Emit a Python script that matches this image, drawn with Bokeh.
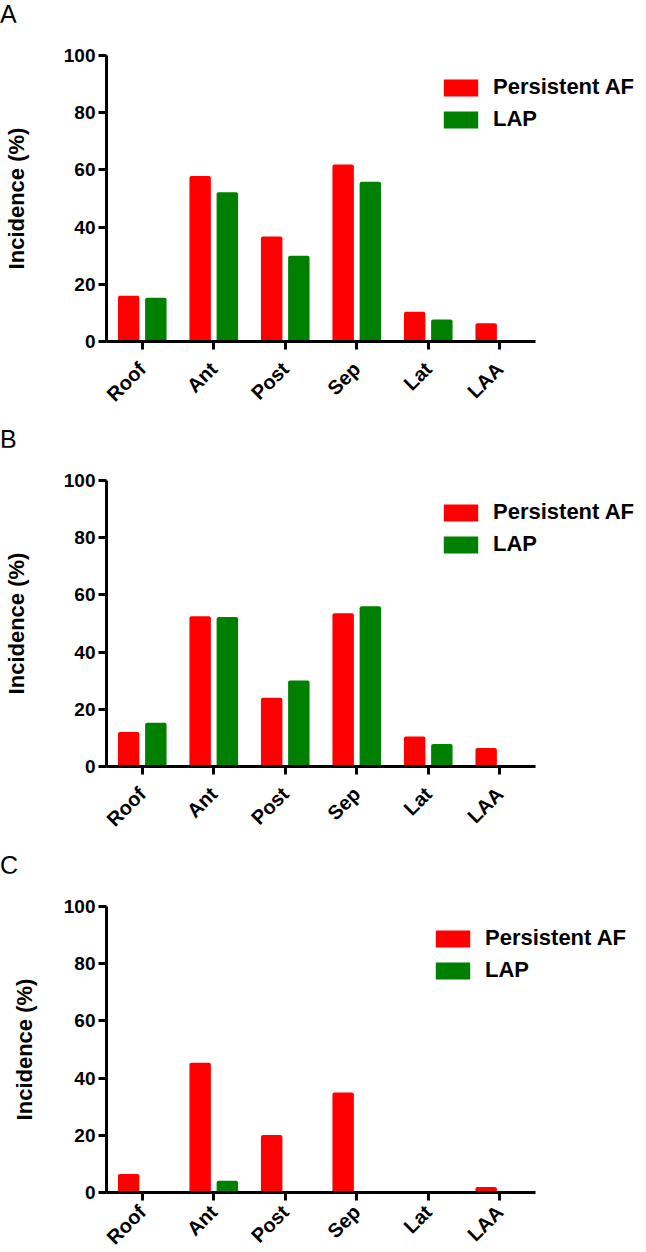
from bokeh.plotting import figure
from bokeh.models import Range1d, FixedTicker, Legend, LegendItem, ColumnDataSource, Div
from bokeh.transform import dodge
from bokeh.layouts import column
from bokeh.embed import file_html
from bokeh.resources import INLINE
from math import pi

categories = ["Roof", "Ant", "Post", "Sep", "Lat", "LAA"]
series_names = ["Persistent AF", "LAP"]
colors = ["#FF0000", "#008000"]
y_ticks = [0, 20, 40, 60, 80, 100]
panel_letters = ["A", "B", "C"]

# Panel A
a_persistent = [16.0, 57.9, 36.7, 61.9, 10.4, 6.4]
a_lap = [15.3, 52.2, 30.0, 55.9, 7.7, 0.0]
# Panel B
b_persistent = [12.1, 52.5, 24.0, 53.6, 10.5, 6.5]
b_lap = [15.3, 52.3, 30.1, 56.0, 7.9, 0.0]
# Panel C
c_persistent = [6.5, 45.4, 20.1, 35.0, 0.0, 1.9]
c_lap = [0.0, 4.1, 0.0, 0.0, 0.0, 0.0]

FONT = "Liberation Sans"
CAT_PX = 71.5
TOTAL_W = 630
DIV_H = 22


def letter_div(letter):
    return Div(text=letter, width=200, height=DIV_H,
               styles={"font-family": FONT, "font-size": "25px", "line-height": "28px",
                       "color": "black", "margin": "0", "overflow": "visible"})


def make_panel(red_vals, green_vals, left, top, bottom, label_standoff, xlabel_standoff):
    positions = list(range(1, len(categories) + 1))
    src = ColumnDataSource(dict(pos=positions, red=red_vals, green=green_vals))
    fw = TOTAL_W - left
    p = figure(x_range=Range1d(0.5, 0.5 + fw / CAT_PX), y_range=Range1d(0, 100),
               frame_width=fw, frame_height=286, min_border_left=left, min_border_right=0,
               min_border_top=top, min_border_bottom=bottom,
               output_backend="svg", toolbar_location=None, tools="")
    r1 = p.vbar(x=dodge("pos", -0.19), top="red", width=0.30, source=src,
                fill_color=colors[0], line_color=None, border_radius=2)
    r2 = p.vbar(x=dodge("pos", 0.19), top="green", width=0.30, source=src,
                fill_color=colors[1], line_color=None, border_radius=2)
    p.outline_line_color = None
    p.xgrid.grid_line_color = None
    p.ygrid.grid_line_color = None
    p.background_fill_color = "white"

    for ax in (p.xaxis[0], p.yaxis[0]):
        ax.axis_line_width = 3
        ax.axis_line_color = "black"
        ax.major_tick_line_width = 3
        ax.major_tick_in = 0
        ax.major_tick_out = 8
        ax.minor_tick_line_color = None
        ax.major_label_text_font = FONT
        ax.major_label_text_font_style = "bold"
        ax.major_label_text_color = "black"

    p.yaxis.ticker = FixedTicker(ticks=y_ticks)
    p.yaxis.major_label_text_font_size = "19px"
    p.yaxis.major_label_standoff = 3
    p.yaxis.axis_label = "Incidence (%)"
    p.yaxis.axis_label_text_font = FONT
    p.yaxis.axis_label_text_font_style = "bold"
    p.yaxis.axis_label_text_font_size = "22px"
    p.yaxis.axis_label_text_color = "black"
    p.yaxis.axis_label_standoff = label_standoff

    p.xaxis.ticker = FixedTicker(ticks=positions)
    p.xaxis.major_label_overrides = {pos: cat for pos, cat in zip(positions, categories)}
    p.xaxis.bounds = (0.5, 0.5 + len(categories))
    p.xaxis.major_label_orientation = pi / 4
    p.xaxis.major_label_text_font_size = "20px"
    p.xaxis.major_label_standoff = xlabel_standoff

    legend = Legend(items=[LegendItem(label=series_names[0], renderers=[r1]),
                           LegendItem(label=series_names[1], renderers=[r2])],
                    location=(333, 209), orientation="vertical")
    legend.glyph_width = 43
    legend.glyph_height = 21
    legend.label_standoff = 11
    legend.spacing = 6
    legend.padding = 0
    legend.margin = 0
    legend.border_line_color = None
    legend.background_fill_alpha = 0
    legend.label_text_font = FONT
    legend.label_text_font_style = "bold"
    legend.label_text_font_size = "22px"
    legend.label_text_color = "black"
    p.add_layout(legend, "center")
    return p


pA = make_panel(a_persistent, a_lap, 101, 33, 84, 32, 16)
pB = make_panel(b_persistent, b_lap, 101, 33, 85, 32, 16)
pC = make_panel(c_persistent, c_lap, 94, 33, 52, 24, 8)

layout = column(letter_div(panel_letters[0]), pA,
                letter_div(panel_letters[1]), pB,
                letter_div(panel_letters[2]), pC, spacing=0)
open("out.html", "w").write(file_html(layout, INLINE))
